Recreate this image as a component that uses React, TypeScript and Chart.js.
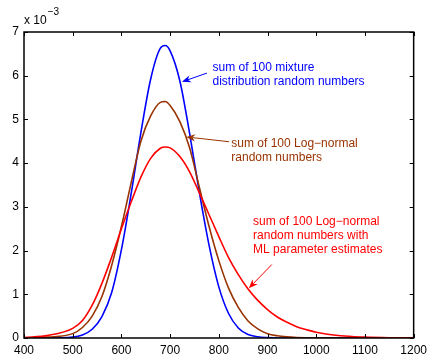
import React, { useEffect, useRef } from "react";
import { Chart, registerables } from "chart.js";

Chart.register(...registerables);

// x positions (sum value)
const xValues = [400, 450, 500, 520, 540, 560, 580, 600, 620, 640, 660, 680, 690, 700, 720, 740, 760, 780, 800, 820, 840, 860, 880, 900, 920, 940, 960, 980, 1000, 1050, 1100, 1150, 1200];

// densities in units of 1e-3
const mixtureSum = [0, 0, 0.02, 0.07, 0.2, 0.49, 1.04, 2.02, 3.3, 4.7, 5.92, 6.63, 6.69, 6.57, 5.88, 4.68, 3.33, 2.12, 1.17, 0.56, 0.23, 0.08, 0.03, 0.01, 0, 0, 0, 0, 0, 0, 0, 0, 0];
const lognormalSum = [0, 0.02, 0.1, 0.24, 0.5, 0.95, 1.66, 2.55, 3.55, 4.5, 5.08, 5.39, 5.41, 5.32, 4.95, 4.35, 3.45, 2.55, 1.77, 1.14, 0.7, 0.39, 0.21, 0.1, 0.05, 0.025, 0.012, 0.006, 0.003, 0, 0, 0, 0];
const lognormalMl = [0.01, 0.06, 0.22, 0.4, 0.75, 1.25, 1.85, 2.5, 3.11, 3.68, 4.11, 4.34, 4.37, 4.35, 4.15, 3.8, 3.32, 2.82, 2.32, 1.84, 1.45, 1.12, 0.86, 0.65, 0.48, 0.36, 0.26, 0.19, 0.13, 0.05, 0.02, 0.006, 0.002];

const xTicks = [400, 500, 600, 700, 800, 900, 1000, 1100, 1200];
const yTicks = [0, 1, 2, 3, 4, 5, 6, 7];
const yExponentBase = "x 10";
const yExponent = "\u22123";

const BLUE = "#0000ff";
const BROWN = "#993300";
const RED = "#ff0000";
const FONT = "'Liberation Sans', Arial, Helvetica, sans-serif";

// annotation labels (data coordinates)
const annotations = [
  { lines: ["sum of 100 mixture", "distribution random numbers"], color: BLUE, tx: 787, ty: 6.19, ax: 775.6, ay: 6.06, bx: 724.3, by: 5.86 },
  { lines: ["sum of 100 Log\u2212normal", "random numbers"], color: BROWN, tx: 825.7, ty: 4.45, ax: 821, ay: 4.49, bx: 733.1, by: 4.6 },
  { lines: ["sum of 100 Log\u2212normal", "random numbers with", "ML parameter estimates"], color: RED, tx: 870.3, ty: 2.67, ax: 908.8, ay: 1.68, bx: 861.6, by: 1.14 },
];

const framePlugin = {
  id: "matlabFrame",
  afterDatasetsDraw(chart: any) {
    const { ctx, chartArea, scales } = chart;
    const xs = scales.x;
    const ys = scales.y;
    const { left, right, top, bottom } = chartArea;
    ctx.save();
    // ticks (inward)
    ctx.strokeStyle = "#000";
    ctx.lineWidth = 1;
    const tl = 4;
    ctx.beginPath();
    xTicks.forEach((v) => {
      const px = Math.round(xs.getPixelForValue(v)) + 0.5;
      ctx.moveTo(px, bottom);
      ctx.lineTo(px, bottom - tl);
      ctx.moveTo(px, top);
      ctx.lineTo(px, top + tl);
    });
    yTicks.forEach((v) => {
      const py = Math.round(ys.getPixelForValue(v)) + 0.5;
      ctx.moveTo(left, py);
      ctx.lineTo(left + tl, py);
      ctx.moveTo(right, py);
      ctx.lineTo(right - tl, py);
    });
    ctx.stroke();
    // frame
    ctx.lineWidth = 1.5;
    ctx.strokeRect(left, top, right - left, bottom - top);

    // exponent label
    ctx.fillStyle = "#000";
    ctx.textBaseline = "middle";
    ctx.textAlign = "left";
    ctx.font = `12px ${FONT}`;
    ctx.fillText(yExponentBase, left, top - 11);
    const w = ctx.measureText(yExponentBase).width;
    ctx.font = `10px ${FONT}`;
    ctx.fillText(yExponent, left + w + 1, top - 20);

    // annotations
    annotations.forEach((a) => {
      ctx.fillStyle = a.color;
      ctx.strokeStyle = a.color;
      ctx.font = `12px ${FONT}`;
      ctx.textAlign = "left";
      ctx.textBaseline = "middle";
      const tx = xs.getPixelForValue(a.tx);
      const ty = ys.getPixelForValue(a.ty);
      a.lines.forEach((ln, i) => ctx.fillText(ln, tx, ty + i * 14.2));
      const ax = xs.getPixelForValue(a.ax);
      const ay = ys.getPixelForValue(a.ay);
      const bx = xs.getPixelForValue(a.bx);
      const by = ys.getPixelForValue(a.by);
      const ang = Math.atan2(by - ay, bx - ax);
      const hl = 9;
      const hw = 3.6;
      ctx.lineWidth = 1;
      ctx.beginPath();
      ctx.moveTo(ax, ay);
      ctx.lineTo(bx - Math.cos(ang) * hl * 0.7, by - Math.sin(ang) * hl * 0.7);
      ctx.stroke();
      const baseX = bx - Math.cos(ang) * hl;
      const baseY = by - Math.sin(ang) * hl;
      const notchX = bx - Math.cos(ang) * hl * 0.7;
      const notchY = by - Math.sin(ang) * hl * 0.7;
      ctx.beginPath();
      ctx.moveTo(bx, by);
      ctx.lineTo(baseX - Math.sin(ang) * hw, baseY + Math.cos(ang) * hw);
      ctx.lineTo(notchX, notchY);
      ctx.lineTo(baseX + Math.sin(ang) * hw, baseY - Math.cos(ang) * hw);
      ctx.closePath();
      ctx.fill();
    });
    ctx.restore();
  },
};

export default function App() {
  const ref = useRef<HTMLCanvasElement | null>(null);
  useEffect(() => {
    if (!ref.current) return;
    const mk = (arr: number[]) => xValues.map((x, i) => ({ x, y: arr[i] }));
    const chart = new Chart(ref.current, {
      type: "line",
      data: {
        datasets: [
          { label: "ML", data: mk(lognormalMl), borderColor: RED, borderWidth: 1.6, pointRadius: 0, cubicInterpolationMode: "monotone", fill: false },
          { label: "Log-normal", data: mk(lognormalSum), borderColor: BROWN, borderWidth: 1.6, pointRadius: 0, cubicInterpolationMode: "monotone", fill: false },
          { label: "Mixture", data: mk(mixtureSum), borderColor: BLUE, borderWidth: 1.6, pointRadius: 0, cubicInterpolationMode: "monotone", fill: false },
        ],
      },
      options: {
        responsive: false,
        animation: false,
        devicePixelRatio: 1,
        layout: { padding: { left: 0, top: 32, right: 13, bottom: 0 } },
        plugins: { legend: { display: false }, tooltip: { enabled: false } },
        scales: {
          x: {
            type: "linear",
            min: 400,
            max: 1200,
            afterBuildTicks: (s: any) => { s.ticks = xTicks.map((v) => ({ value: v })); },
            afterFit: (s: any) => { s.height = 20; },
            grid: { display: false, drawTicks: false },
            border: { display: false },
            ticks: { autoSkip: false, maxRotation: 0, padding: 5, color: "#000", font: { family: FONT, size: 12 }, callback: (v: any) => String(v) },
          },
          y: {
            type: "linear",
            min: 0,
            max: 7,
            afterBuildTicks: (s: any) => { s.ticks = yTicks.map((v) => ({ value: v })); },
            afterFit: (s: any) => { s.width = 24; },
            grid: { display: false, drawTicks: false },
            border: { display: false },
            ticks: { padding: 5, color: "#000", font: { family: FONT, size: 12 }, callback: (v: any) => String(v) },
          },
        },
      },
      plugins: [framePlugin],
    } as any);
    return () => chart.destroy();
  }, []);
  return (
    <div style={{ position: "absolute", left: 0, top: 0, width: 432, height: 358, background: "#fff" }}>
      <canvas ref={ref} width={432} height={358} />
    </div>
  );
}
